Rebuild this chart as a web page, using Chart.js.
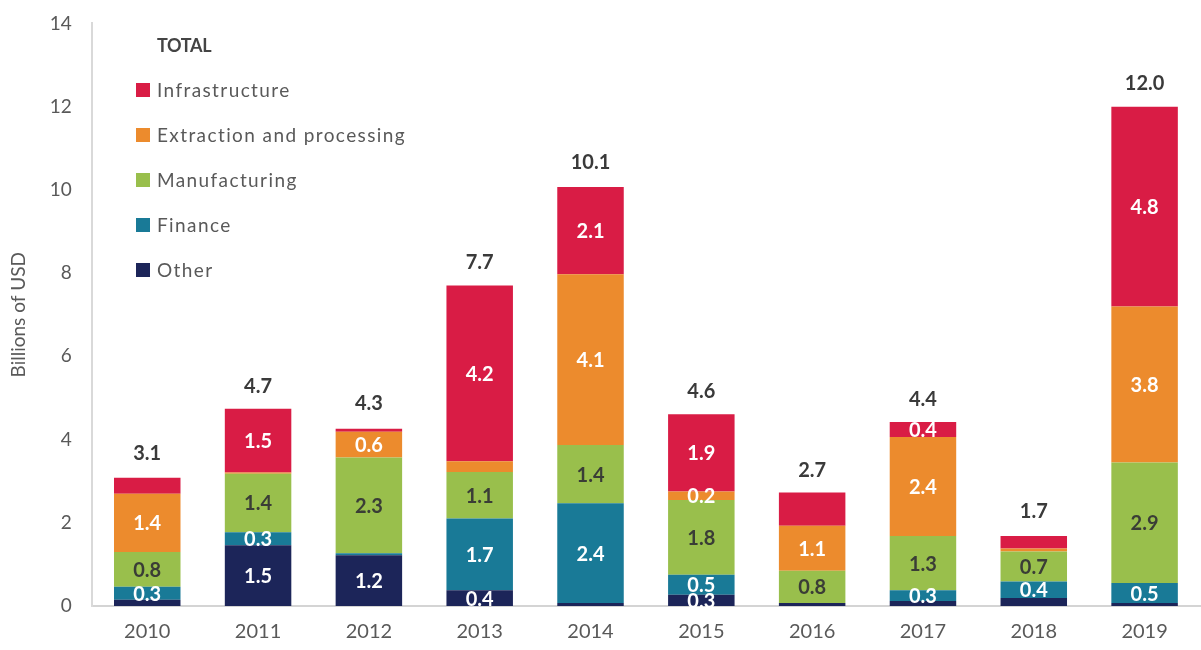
<!DOCTYPE html>
<html>
<head>
<meta charset="utf-8">
<script src="https://cdn.jsdelivr.net/npm/chart.js@4/dist/chart.umd.min.js"></script>
<style>
  html, body { margin: 0; padding: 0; background: #fff; }
  #wrap { position: relative; width: 1201px; height: 650px; }
  #legend { position: absolute; left: 136px; top: 30px; font-family: Lato, "Open Sans", sans-serif; color: #595959; font-size: 19px; letter-spacing: 1.4px; }
  #legend .title { font-weight: bold; color: #444; margin-left: 21px; height: 30px; line-height: 30px; letter-spacing: -0.3px; font-size: 18px; }
  #legend .item { height: 45px; line-height: 30px; display: flex; align-items: flex-start; }
  #legend .box { width: 14px; height: 14px; margin-top: 8px; margin-right: 7px; }
</style>
</head>
<body>
<div id="wrap">
  <canvas id="investmentChart" width="1201" height="650"></canvas>
  <div id="legend"></div>
</div>
<script>
const years = ["2010", "2011", "2012", "2013", "2014", "2015", "2016", "2017", "2018", "2019"];

// values in billions of USD
const infrastructure = [0.38, 1.53, 0.07, 4.22, 2.1, 1.86, 0.8, 0.36, 0.3, 4.8];
const extraction     = [1.4, 0.03, 0.62, 0.26, 4.1, 0.2, 1.08, 2.38, 0.07, 3.75];
const manufacturing  = [0.84, 1.41, 2.3, 1.12, 1.4, 1.8, 0.78, 1.3, 0.72, 2.9];
const finance        = [0.31, 0.31, 0.05, 1.72, 2.4, 0.48, 0, 0.26, 0.4, 0.48];
const other          = [0.15, 1.46, 1.22, 0.38, 0.07, 0.27, 0.07, 0.12, 0.19, 0.07];
const totals         = [3.1, 4.7, 4.3, 7.7, 10.1, 4.6, 2.7, 4.4, 1.7, 12.0];

// which segments carry a value label in the original
const infrastructureShown = [false, true, false, true, true, true, false, true, false, true];
const extractionShown     = [true, false, true, false, true, true, true, true, false, true];
const manufacturingShown  = [true, true, true, true, true, true, true, true, true, true];
const financeShown        = [true, true, false, true, true, true, false, true, true, true];
const otherShown          = [false, true, true, true, false, true, false, false, false, false];

const fontFamily = 'Lato, "Open Sans", sans-serif';

// bottom of the stack first
const series = [
    { label: "Other", data: other, shown: otherShown, color: "#1c2559", text: "#ffffff" },
    { label: "Finance", data: finance, shown: financeShown, color: "#197a97", text: "#ffffff" },
    { label: "Manufacturing", data: manufacturing, shown: manufacturingShown, color: "#99bf4c", text: "#3a3d36" },
    { label: "Extraction and processing", data: extraction, shown: extractionShown, color: "#ec8b2d", text: "#ffffff" },
    { label: "Infrastructure", data: infrastructure, shown: infrastructureShown, color: "#d91c45", text: "#ffffff" }
];

let legendBox = document.getElementById("legend");
let html = '<div class="title">TOTAL</div><div style="height:15px"></div>';
for (let i = series.length - 1; i >= 0; i--) {
    html += '<div class="item"><div class="box" style="background:' + series[i].color + '"></div>' + series[i].label + '</div>';
}
legendBox.innerHTML = html;

const barLabels = {
    id: "barLabels",
    afterDatasetsDraw(chart) {
        let ctx = chart.ctx;
        ctx.save();
        ctx.textAlign = "center";
        ctx.textBaseline = "middle";
        ctx.font = "bold 20px " + fontFamily;
        chart.data.datasets.forEach(function (ds, d) {
            let meta = chart.getDatasetMeta(d);
            meta.data.forEach(function (bar, i) {
                if (!series[d].shown[i]) return;
                let mid = (bar.y + bar.base) / 2;
                ctx.fillStyle = series[d].text;
                ctx.fillText(ds.data[i].toFixed(1), bar.x, mid + 1);
            });
        });
        let xScale = chart.scales.x;
        let yScale = chart.scales.y;
        ctx.fillStyle = "#3a3a3a";
        ctx.textBaseline = "alphabetic";
        totals.forEach(function (t, i) {
            ctx.fillText(t.toFixed(1), xScale.getPixelForValue(i), yScale.getPixelForValue(t) - 17);
        });
        ctx.restore();
    }
};

let ctx = document.getElementById("investmentChart").getContext("2d");

let myChart = new Chart(ctx, {
    type: "bar",
    data: {
        labels: years,
        datasets: series.map(function (s) {
            return {
                label: s.label,
                data: s.data,
                backgroundColor: s.color,
                borderWidth: 0,
                barPercentage: 0.6,
                categoryPercentage: 1.0
            };
        })
    },
    options: {
        responsive: false,
        animation: false,
        layout: { padding: { top: 8, right: 1, left: 3, bottom: 0 } },
        plugins: {
            legend: { display: false },
            tooltip: { enabled: false }
        },
        scales: {
            x: {
                stacked: true,
                grid: { display: false },
                border: { color: "#d4d4d4", width: 2 },
                ticks: { color: "#595959", font: { family: fontFamily, size: 20 }, padding: 6 }
            },
            y: {
                stacked: true,
                min: 0,
                max: 14,
                grid: { display: false },
                border: { color: "#d9d9d9", width: 2 },
                ticks: { stepSize: 2, color: "#595959", font: { family: fontFamily, size: 19 }, padding: 12 },
                title: {
                    display: true,
                    text: "Billions of USD",
                    color: "#595959",
                    font: { family: fontFamily, size: 19 },
                    padding: { top: 4, bottom: 8 }
                }
            }
        }
    },
    plugins: [barLabels]
});
</script>
</body>
</html>
